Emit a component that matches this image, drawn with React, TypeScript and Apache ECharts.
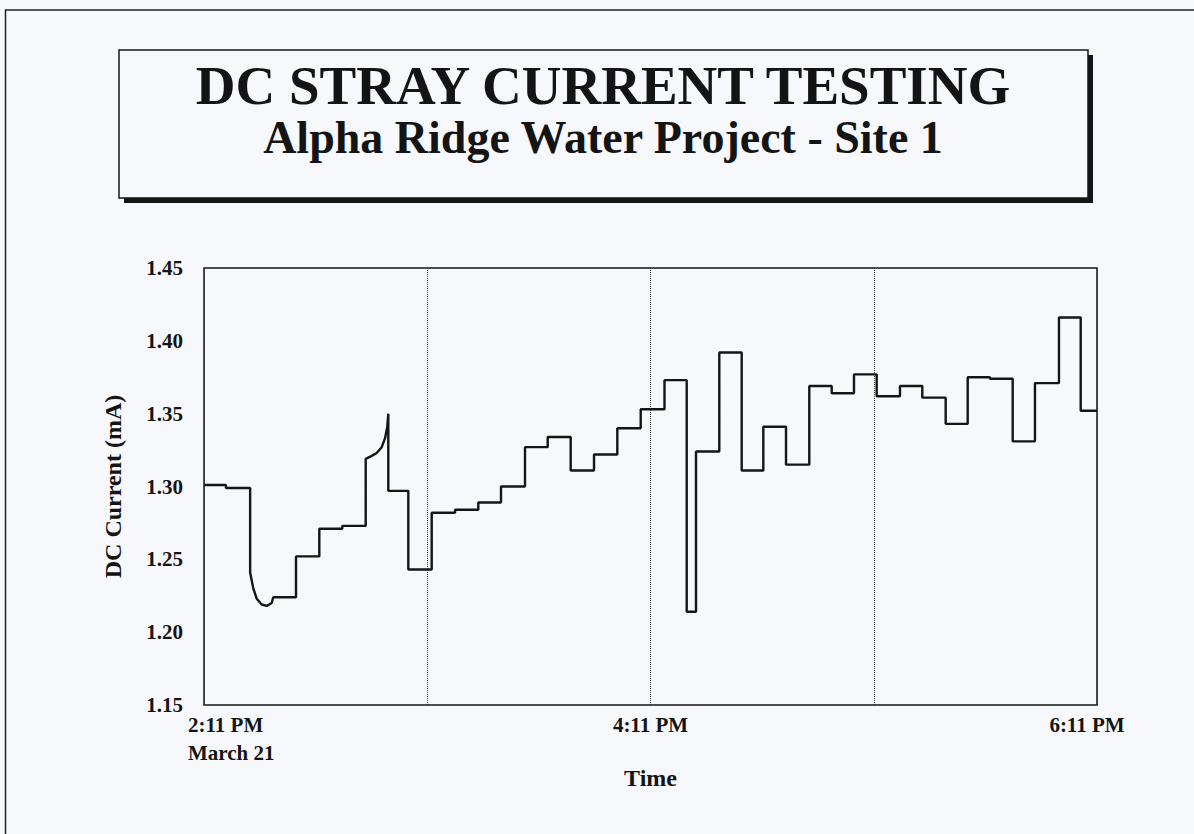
import { useEffect, useRef } from "react";
import * as echarts from "echarts";

const titleText = "DC STRAY CURRENT TESTING";
const subtitleText = "Alpha Ridge Water Project - Site 1";
const yAxisName = "DC Current (mA)";
const xAxisName = "Time";
const yMin = 1.15;
const yMax = 1.45;
const yStep = 0.05;
const xMinutesMax = 240;
const xGridStep = 60;
const xTickMinutes = [0, 120, 240];
const xTickLabels = ["2:11 PM", "4:11 PM", "6:11 PM"];
const startDateLabel = "March 21";

// minutes after 2:11 PM
const times = [
  0, 5.9, 12.4, 13.25, 14.16, 15.51, 16.85, 18.19, 18.62, 24.73, 30.99, 37.17, 43.46,
  45.07, 46.41, 47.76, 48.64, 49.26, 49.53, 49.53, 54.91, 61.2, 67.46, 73.72, 79.82,
  86.27, 92.37, 98.55, 104.82, 111.08, 117.37, 123.76, 129.73, 132.23, 138.49, 144.51,
  150.32, 156.42, 162.68, 168.7, 174.69, 180.79, 187.05, 193.05, 199.33, 205.25, 211.24,
  217.34, 223.33, 229.78, 235.62, 240,
];
// DC current (mA)
const currents = [
  1.301, 1.299, 1.241, 1.23, 1.223, 1.219, 1.218, 1.22, 1.224, 1.252, 1.271, 1.273, 1.319,
  1.321, 1.323, 1.327, 1.333, 1.341, 1.35, 1.297, 1.243, 1.282, 1.284, 1.289, 1.3,
  1.327, 1.334, 1.311, 1.322, 1.34, 1.353, 1.373, 1.214, 1.324, 1.392, 1.311,
  1.341, 1.315, 1.369, 1.364, 1.377, 1.362, 1.369, 1.361, 1.343, 1.375, 1.374,
  1.331, 1.371, 1.416, 1.352, 1.352,
];
// how each reading is joined to the previous: S = step, C = continuous curve
const joins = [
  "-", "S", "S", "C", "C", "C", "C", "C", "C", "S", "S", "S", "S",
  "C", "C", "C", "C", "C", "C", "S", "S", "S", "S", "S", "S",
  "S", "S", "S", "S", "S", "S", "S", "S", "S", "S", "S",
  "S", "S", "S", "S", "S", "S", "S", "S", "S", "S", "S",
  "S", "S", "S", "S", "S",
];

const FONT = "'Liberation Serif', 'Times New Roman', serif";
const BG = "#f7f8fc";
const INK = "#141414";

function buildPoints(): number[][] {
  const pts: number[][] = [[times[0], currents[0]]];
  for (let i = 1; i < times.length; i++) {
    if (joins[i] === "S") {
      pts.push([times[i], currents[i - 1]]);
      pts.push([times[i], currents[i]]);
    } else {
      pts.push([times[i], currents[i]]);
    }
  }
  return pts;
}

export default function App() {
  const ref = useRef<HTMLDivElement>(null);
  useEffect(() => {
    const chart = echarts.init(ref.current!, null, { renderer: "svg" });
    chart.setOption({
      animation: false,
      backgroundColor: BG,
      grid: {
        left: 204,
        top: 268,
        right: 97,
        bottom: 129,
        show: true,
        borderColor: INK,
        borderWidth: 1.5,
        backgroundColor: "transparent",
      },
      xAxis: {
        type: "value",
        min: 0,
        max: xMinutesMax,
        interval: xGridStep,
        axisLine: { show: false },
        axisTick: { show: false },
        axisLabel: { show: false },
        splitLine: { show: true, lineStyle: { type: "dotted", color: "#333", width: 1 } },
        name: xAxisName,
        nameLocation: "middle",
        nameGap: 61,
        nameTextStyle: { fontFamily: FONT, fontSize: 24, fontWeight: "bold", color: INK },
      },
      yAxis: {
        type: "value",
        min: yMin,
        max: yMax,
        interval: yStep,
        axisLine: { show: false },
        axisTick: { show: false },
        splitLine: { show: false },
        axisLabel: {
          margin: 21,
          fontFamily: FONT,
          fontSize: 21,
          fontWeight: "bold",
          color: INK,
          formatter: (v: number) => v.toFixed(2),
        },
        name: yAxisName,
        nameLocation: "middle",
        nameGap: 79,
        nameRotate: 90,
        nameTextStyle: { fontFamily: FONT, fontSize: 24, fontWeight: "bold", color: INK },
      },
      series: [
        {
          type: "line",
          data: buildPoints(),
          showSymbol: false,
          lineStyle: { color: INK, width: 2.4 },
          clip: true,
        },
      ],
    });

    const px = (t: number) => chart.convertToPixel({ xAxisIndex: 0 }, t) as number;
    const bottom = chart.convertToPixel({ yAxisIndex: 0 }, yMin) as number;
    const labelStyle = { fontFamily: FONT, fontSize: 21, fontWeight: "bold", fill: INK };
    const tickTexts = xTickMinutes.map((m, i) => {
      const x = i === 0 ? px(m) - 16 : i === xTickMinutes.length - 1 ? px(m) - 10 : px(m);
      return {
        type: "text",
        style: {
          ...labelStyle,
          text: xTickLabels[i],
          x,
          y: bottom + 20,
          textAlign: i === 0 ? "left" : "center",
          textVerticalAlign: "middle",
        },
      };
    });

    chart.setOption({
      graphic: [
        {
          type: "rect",
          shape: { x: 5.5, y: 10, width: 1220, height: 860 },
          style: { fill: "none", stroke: "#222", lineWidth: 1.5 },
        },
        {
          type: "rect",
          shape: { x: 124, y: 55, width: 969, height: 148 },
          style: { fill: INK },
        },
        {
          type: "rect",
          shape: { x: 119, y: 50, width: 969, height: 148 },
          style: { fill: BG, stroke: INK, lineWidth: 1.5 },
        },
        {
          type: "text",
          style: {
            text: titleText,
            x: 603,
            y: 85,
            textAlign: "center",
            textVerticalAlign: "middle",
            fontFamily: FONT,
            fontSize: 55,
            fontWeight: "bold",
            fill: INK,
          },
        },
        {
          type: "text",
          style: {
            text: subtitleText,
            x: 603,
            y: 137,
            textAlign: "center",
            textVerticalAlign: "middle",
            fontFamily: FONT,
            fontSize: 46,
            fontWeight: "bold",
            fill: INK,
          },
        },
        ...tickTexts,
        {
          type: "text",
          style: {
            ...labelStyle,
            text: startDateLabel,
            x: px(xTickMinutes[0]) - 16,
            y: bottom + 48,
            textAlign: "left",
            textVerticalAlign: "middle",
          },
        },
      ],
    });
    return () => chart.dispose();
  }, []);
  return (
    <div
      ref={ref}
      style={{ position: "fixed", left: 0, top: 0, width: 1194, height: 834 }}
    />
  );
}
